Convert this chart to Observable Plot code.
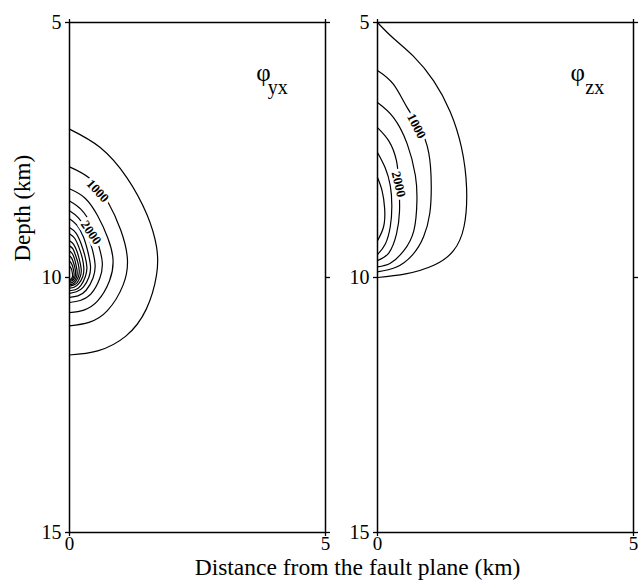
<!DOCTYPE html>
<html><head><meta charset="utf-8">
<script src="https://cdn.jsdelivr.net/npm/d3@7"></script>
<script src="https://cdn.jsdelivr.net/npm/@observablehq/plot@0.6"></script>
<style>
body{margin:0;background:#fff;}
#wrap{position:relative;width:643px;height:580px;overflow:hidden;}
#wrap svg{position:absolute;top:0;}
</style></head><body><div id="wrap"></div>
<script>
// axis ticks
const xTicks = [0, 5];
const yTicks = [5, 10, 15];

// phi_yx contours: [distance km, depth km] points
const yxLevels = [500,1000,1500,2000,2500,3000,3500,4000,4500,5000,5500,6000,6500,7000];
const yxContours = [
  [[0,7.09],[0.60,7.45],[1.12,8.04],[1.51,8.76],[1.70,9.40],[1.70,9.95],[1.50,10.62],[1.10,11.15],[0.55,11.44],[0,11.52]],
  [[0,7.83],[0.40,8.06],[0.74,8.50],[1.00,9.07],[1.13,9.62],[1.05,10.14],[0.74,10.65],[0.38,10.88],[0,10.95]],
  [[0,8.26],[0.30,8.44],[0.55,8.79],[0.75,9.23],[0.85,9.65],[0.78,10.07],[0.55,10.46],[0.28,10.64],[0,10.69]],
  [[0,8.50],[0.22,8.66],[0.42,8.96],[0.56,9.34],[0.64,9.70],[0.59,10.02],[0.42,10.32],[0.21,10.45],[0,10.49]],
  [[0,8.69],[0.175,8.83],[0.325,9.09],[0.44,9.43],[0.50,9.75],[0.46,10.01],[0.325,10.25],[0.165,10.36],[0,10.39]],
  [[0,8.85],[0.14,8.97],[0.27,9.20],[0.36,9.50],[0.41,9.78],[0.38,9.99],[0.27,10.19],[0.135,10.28],[0,10.31]],
  [[0,9.02],[0.12,9.12],[0.22,9.32],[0.30,9.57],[0.34,9.80],[0.31,9.98],[0.22,10.16],[0.11,10.24],[0,10.26]],
  [[0,9.14],[0.10,9.23],[0.18,9.40],[0.25,9.62],[0.28,9.82],[0.26,9.98],[0.18,10.12],[0.09,10.19],[0,10.21]],
  [[0,9.28],[0.08,9.35],[0.15,9.50],[0.20,9.68],[0.23,9.85],[0.21,9.98],[0.15,10.10],[0.076,10.15],[0,10.17]],
  [[0,9.38],[0.067,9.44],[0.12,9.57],[0.167,9.72],[0.19,9.87],[0.175,9.98],[0.12,10.08],[0.063,10.13],[0,10.14]],
  [[0,9.48],[0.053,9.53],[0.10,9.64],[0.13,9.77],[0.15,9.89],[0.14,9.98],[0.10,10.06],[0.05,10.10],[0,10.11]],
  [[0,9.58],[0.042,9.62],[0.078,9.71],[0.106,9.81],[0.12,9.91],[0.11,9.98],[0.078,10.04],[0.04,10.07],[0,10.08]],
  [[0,9.68],[0.03,9.71],[0.06,9.78],[0.08,9.86],[0.09,9.93],[0.083,9.98],[0.06,10.03],[0.03,10.05],[0,10.06]],
  [[0,9.78],[0.02,9.80],[0.04,9.84],[0.053,9.90],[0.06,9.95],[0.055,9.99],[0.04,10.02],[0.02,10.035],[0,10.04]]
];
const yxLabelText = ["1000", "2000"];
const yxLabelX = [0.55, 0.42];
const yxLabelY = [8.30, 9.12];
const yxLabelAngle = [47, 55];

// phi_zx contours
const zxLevels = [500,1000,1500,2000,2500,3000];
const zxContours = [
  [[0,5.0],[0.30,5.30],[0.70,5.66],[1.10,6.15],[1.42,6.75],[1.64,7.45],[1.74,8.25],[1.69,9.00],[1.48,9.48],[1.10,9.76],[0.55,9.93],[0,10.0]],
  [[0,5.94],[0.31,6.21],[0.58,6.67],[0.82,7.05],[1.00,7.55],[1.05,8.2],[1.02,8.75],[0.90,9.2],[0.68,9.56],[0.36,9.8],[0,9.89]],
  [[0,6.57],[0.31,6.86],[0.58,7.38],[0.74,8.0],[0.77,8.5],[0.71,9.08],[0.51,9.48],[0.25,9.72],[0,9.79]],
  [[0,7.06],[0.22,7.32],[0.37,7.71],[0.42,8.2],[0.43,8.7],[0.37,9.15],[0.22,9.52],[0,9.67]],
  [[0,7.55],[0.15,7.85],[0.25,8.2],[0.28,8.6],[0.25,9.0],[0.15,9.35],[0,9.55]],
  [[0,8.04],[0.09,8.3],[0.14,8.65],[0.12,9.0],[0,9.28]]
];
const zxLabelText = ["1000", "2000"];
const zxLabelX = [0.76, 0.41];
const zxLabelY = [7.03, 8.17];
const zxLabelAngle = [63, 77];

const FONT = "'Liberation Serif', 'Times New Roman', serif";

function rows(levels, contours) {
  return contours.flatMap((pts, i) => pts.map(([x, y], j) => ({level: levels[i], x, y, j})));
}
function labelRows(t, xs, ys, as) {
  return t.map((s, i) => ({t: s, x: xs[i], y: ys[i], a: as[i]}));
}

function panel({levels, contours, labels, sym, sub, symX, subX, width, marginLeft, marginRight, extra}) {
  return Plot.plot({
    width, height: 580, marginLeft, marginRight, marginTop: 22, marginBottom: 48,
    x: {domain: [0, 5]},
    y: {domain: [5, 15], reverse: true},
    style: {background: "transparent", fontFamily: FONT, color: "black", overflow: "visible"},
    marks: [
      Plot.line(rows(levels, contours), {x: "x", y: "y", z: "level", curve: "natural", stroke: "black", strokeWidth: 1.2}),
      Plot.text(labels, {x: "x", y: "y", text: "t", rotate: "a", fontSize: 13, fontWeight: "bold", letterSpacing: 1, fill: "black", stroke: "white", strokeWidth: 6}),
      Plot.frame({stroke: "black", strokeWidth: 1.5}),
      Plot.axisY({ticks: yTicks, tickSize: 4, tickPadding: 4, tickFormat: d => String(d), fontSize: 20, label: null, strokeWidth: 1.3}),
      Plot.axisY({anchor: "right", ticks: yTicks, tickSize: 4, tickFormat: () => "", label: null, strokeWidth: 1.3}),
      Plot.axisX({ticks: xTicks, tickSize: 4, tickPadding: 0, tickFormat: d => String(d), fontSize: 19, label: null, strokeWidth: 1.3}),
      Plot.axisX({anchor: "top", ticks: xTicks, tickSize: 4, tickFormat: () => "", label: null, strokeWidth: 1.3}),
      Plot.text([sym], {x: symX, y: 5.99, text: d => d, fontSize: 25, fill: "black"}),
      Plot.text([sub], {x: subX, y: 6.27, text: d => d, fontSize: 20, textAnchor: "start", fill: "black"}),
      ...(extra || [])
    ]
  });
}

const wrap = document.getElementById("wrap");

const left = panel({
  levels: yxLevels, contours: yxContours,
  labels: labelRows(yxLabelText, yxLabelX, yxLabelY, yxLabelAngle),
  sym: "φ", sub: "yx", symX: 3.79, subX: 3.87,
  width: 330, marginLeft: 69, marginRight: 5,
  extra: [
    Plot.text(["Depth (km)"], {frameAnchor: "left", text: d => d, rotate: -90, dx: -47, dy: -16, fontSize: 23, fill: "black"}),
    Plot.text(["Distance from the fault plane (km)"], {frameAnchor: "bottom", text: d => d, lineAnchor: "bottom", dx: 160, dy: 42, fontSize: 23.5, fill: "black"})
  ]
});
left.style.left = "0px";
wrap.appendChild(left);

const right = panel({
  levels: zxLevels, contours: zxContours,
  labels: labelRows(zxLabelText, zxLabelX, zxLabelY, zxLabelAngle),
  sym: "φ", sub: "zx", symX: 3.91, subX: 4.06,
  width: 333, marginLeft: 67, marginRight: 10
});
right.style.left = "310px";
wrap.appendChild(right);
</script>
</body></html>
